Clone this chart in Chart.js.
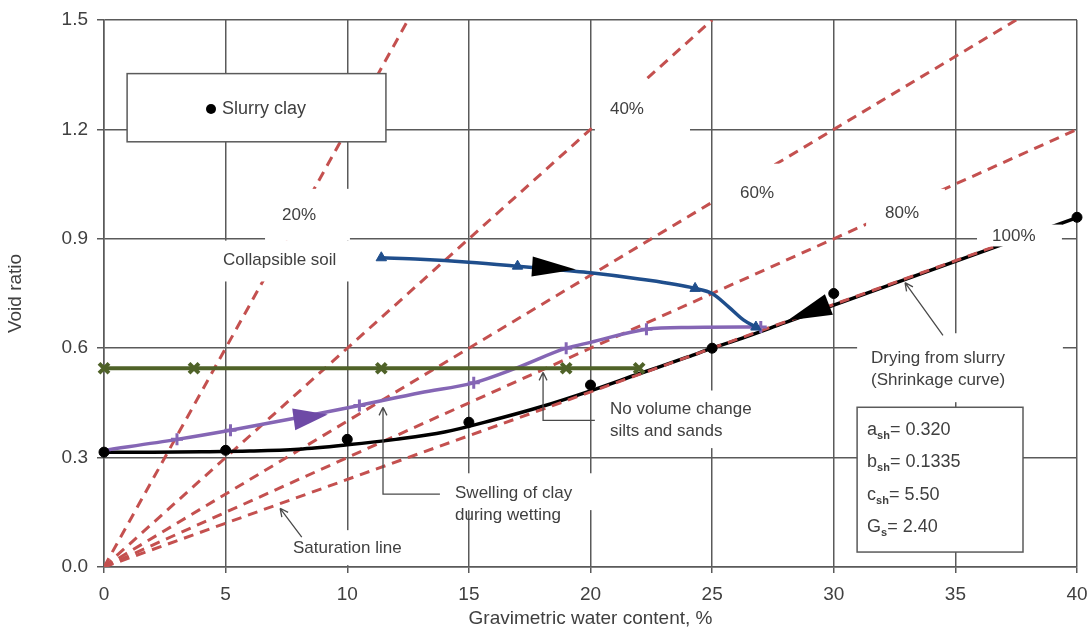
<!DOCTYPE html>
<html>
<head>
<meta charset="utf-8">
<script src="https://cdn.jsdelivr.net/npm/chart.js@4.4.1/dist/chart.umd.min.js"></script>
<style>
  html, body { margin: 0; padding: 0; background: #fff; }
  #wrap { width: 1090px; height: 630px; }
</style>
</head>
<body>
<div id="wrap"><canvas id="void-ratio" width="1090" height="630"></canvas></div>
<script>
// slurry clay, measured points
const slurryW = [0, 5, 10, 15, 20, 25, 30, 40];
const slurryE = [0.315, 0.32, 0.35, 0.397, 0.499, 0.6, 0.75, 0.959];

// shrinkage curve through the slurry points
const shrinkW = [0, 2, 4, 6, 8, 10, 12, 14, 16, 18, 20, 22, 24, 25, 26, 28, 30, 32, 34, 36, 38, 40];
const shrinkE = [0.315, 0.315, 0.316, 0.318, 0.323, 0.335, 0.35, 0.37, 0.403, 0.44, 0.483, 0.53, 0.576, 0.6, 0.622, 0.67, 0.718, 0.766, 0.814, 0.862, 0.91, 0.958];

// collapsible soil on wetting
const collapseW = [11.4, 13, 15, 17, 19, 20, 22, 24.3, 25, 25.7, 26.3, 26.8];
const collapseE = [0.848, 0.844, 0.836, 0.825, 0.813, 0.807, 0.79, 0.764, 0.75, 0.712, 0.677, 0.658];
const collapseMarkW = [11.4, 17, 24.3, 26.8];
const collapseMarkE = [0.848, 0.825, 0.764, 0.658];

// swelling clay on wetting
const swellW = [0, 3, 5.2, 8, 10.5, 13, 15.2, 17, 19, 20, 22.3, 24, 27];
const swellE = [0.32, 0.35, 0.375, 0.41, 0.443, 0.478, 0.505, 0.547, 0.6, 0.616, 0.652, 0.657, 0.658];
const swellMarkW = [3, 5.2, 10.5, 15.2, 19, 22.3, 27];
const swellMarkE = [0.35, 0.375, 0.443, 0.505, 0.6, 0.652, 0.658];

// silts and sands, no volume change
const siltW = [0, 3.7, 11.4, 19, 22];
const siltE = [0.545, 0.545, 0.545, 0.545, 0.545];

// saturation lines from the origin
const saturationNames = ['20%', '40%', '60%', '80%', '100%'];
const saturationEndW = [12.5, 25, 37.5, 40, 37.5];
const saturationEndE = [1.5, 1.5, 1.5, 1.2, 0.9];

// shrinkage parameters
const paramNames = ['a', 'b', 'c', 'G'];
const paramSubs = ['sh', 'sh', 'sh', 's'];
const paramValues = ['0.320', '0.1335', '5.50', '2.40'];

const xTicks = [0, 5, 10, 15, 20, 25, 30, 35, 40];
const yTicks = [0, 0.3, 0.6, 0.9, 1.2, 1.5];

const FONT = "'Liberation Sans', Arial, sans-serif";
const TEXT = '#404040';
const GRID = '#5a5a5a';
const RED = '#c4504f';

const pts = (ws, es) => ws.map((w, i) => ({ x: w, y: es[i] }));

// text labels: first line anchored at (w, e), white backing box [w0, e0, w1, e1]
const labelNotes = [
  { lines: ['20%'], at: [7.32, 0.9635], box: [6.62, 1.037, 10.11, 0.895] },
  { lines: ['40%'], at: [20.8, 1.256], box: [20.18, 1.338, 24.09, 1.193] },
  { lines: ['60%'], at: [26.15, 1.026], box: [25.12, 1.106, 28.61, 0.963] },
  { lines: ['80%'], at: [32.11, 0.969], box: [31.33, 1.037, 34.57, 0.928] },
  { lines: ['100%'], at: [36.51, 0.906], box: [35.89, 0.939, 39.38, 0.879] },
  { lines: ['Collapsible soil'], at: [4.89, 0.84], box: [4.44, 0.895, 10.2, 0.783] },
  { lines: ['Drying from slurry', '(Shrinkage curve)'], at: [31.53, 0.572], box: [30.96, 0.641, 39.42, 0.452] },
  { lines: ['No volume change', 'silts and sands'], at: [20.8, 0.4325], box: [20.31, 0.484, 27.58, 0.326] },
  { lines: ['Swelling of clay', 'during wetting'], at: [14.43, 0.2026], box: [14.02, 0.257, 20.31, 0.156] },
  { lines: ['Saturation line'], at: [7.77, 0.052], box: [7.44, 0.101, 12.99, 0.005] },
];

// thin pointers, last point carries the open arrowhead
const pointerNotes = [
  [[8.13, 0.082], [7.24, 0.161]],
  [[34.49, 0.635], [32.93, 0.78]],
  [[20.18, 0.402], [18.05, 0.402], [18.05, 0.534]],
  [[13.81, 0.2], [11.47, 0.2], [11.47, 0.438]],
];

// direction arrows on the paths
const flowArrows = [
  { from: [17.6, 0.824], to: [19.4, 0.816], half: 10, color: '#000' },
  { from: [29.8, 0.72], to: [28.1, 0.676], half: 11, color: '#000' },
  { from: [7.8, 0.405], to: [9.2, 0.418], half: 11, color: '#6e4aa6' },
];

const legendBox = [0.95, 1.353, 11.59, 1.166];
const legendDot = [4.4, 1.256];
const paramBox = [30.96, 0.438, 37.78, 0.041];
const paramRowsE = [0.375, 0.287, 0.197, 0.109];

const notesPlugin = {
  id: 'notes',
  afterDatasetsDraw(chart) {
    const { ctx } = chart;
    const sx = chart.scales.x;
    const sy = chart.scales.y;
    const P = (w, e) => [sx.getPixelForValue(w), sy.getPixelForValue(e)];
    const rect = (b) => {
      const [x0, y0] = P(b[0], b[1]);
      const [x1, y1] = P(b[2], b[3]);
      return [x0, y0, x1 - x0, y1 - y0];
    };

    ctx.save();

    // white boxes behind the free labels
    ctx.fillStyle = '#fff';
    labelNotes.forEach((n) => ctx.fillRect(...rect(n.box)));

    // framed boxes
    [legendBox, paramBox].forEach((b) => {
      const r = rect(b);
      ctx.fillStyle = '#fff';
      ctx.fillRect(...r);
      ctx.strokeStyle = GRID;
      ctx.lineWidth = 1.5;
      ctx.strokeRect(...r);
    });

    ctx.fillStyle = TEXT;
    ctx.textBaseline = 'middle';
    ctx.textAlign = 'left';
    ctx.font = `17px ${FONT}`;
    labelNotes.forEach((n) => {
      const [x, y] = P(n.at[0], n.at[1]);
      n.lines.forEach((t, i) => ctx.fillText(t, x, y + i * 22));
    });

    // legend entry
    const [dx, dy] = P(legendDot[0], legendDot[1]);
    ctx.fillStyle = '#000';
    ctx.beginPath();
    ctx.arc(dx, dy, 5, 0, Math.PI * 2);
    ctx.fill();
    ctx.fillStyle = TEXT;
    ctx.font = `18px ${FONT}`;
    ctx.fillText('Slurry clay', dx + 11, dy);

    // shrinkage parameters with subscripts
    const [px0] = P(paramBox[0] + 0.41, 0);
    paramRowsE.forEach((e, i) => {
      const y = sy.getPixelForValue(e);
      let x = px0;
      ctx.font = `18px ${FONT}`;
      ctx.fillText(paramNames[i], x, y);
      x += ctx.measureText(paramNames[i]).width;
      ctx.font = `bold 11px ${FONT}`;
      ctx.fillText(paramSubs[i], x, y + 6);
      x += ctx.measureText(paramSubs[i]).width;
      ctx.font = `18px ${FONT}`;
      ctx.fillText('= ' + paramValues[i], x, y);
    });

    // pointers
    ctx.strokeStyle = '#4a4a4a';
    ctx.lineWidth = 1.3;
    pointerNotes.forEach((path) => {
      const q = path.map((p) => P(p[0], p[1]));
      ctx.beginPath();
      ctx.moveTo(q[0][0], q[0][1]);
      q.slice(1).forEach((p) => ctx.lineTo(p[0], p[1]));
      const a = q[q.length - 2];
      const b = q[q.length - 1];
      const ang = Math.atan2(b[1] - a[1], b[0] - a[0]);
      [0.45, -0.45].forEach((d) => {
        ctx.moveTo(b[0], b[1]);
        ctx.lineTo(b[0] - 9 * Math.cos(ang + d), b[1] - 9 * Math.sin(ang + d));
      });
      ctx.stroke();
    });

    // filled direction arrows
    flowArrows.forEach((f) => {
      const [x0, y0] = P(f.from[0], f.from[1]);
      const [x1, y1] = P(f.to[0], f.to[1]);
      const ang = Math.atan2(y1 - y0, x1 - x0);
      const nx = -Math.sin(ang) * f.half;
      const ny = Math.cos(ang) * f.half;
      ctx.fillStyle = f.color;
      ctx.beginPath();
      ctx.moveTo(x1, y1);
      ctx.lineTo(x0 + nx, y0 + ny);
      ctx.lineTo(x0 - nx, y0 - ny);
      ctx.closePath();
      ctx.fill();
    });

    ctx.restore();
  },
};

const saturationSets = saturationNames.map((name, i) => ({
  label: 'S = ' + name,
  data: [{ x: 0, y: 0 }, { x: saturationEndW[i], y: saturationEndE[i] }],
  showLine: true,
  borderColor: RED,
  borderWidth: 3,
  borderDash: [10, 7],
  pointRadius: 0,
  order: name === '100%' ? 1 : 6,
}));

new Chart(document.getElementById('void-ratio'), {
  type: 'scatter',
  data: {
    datasets: [
      {
        label: 'Slurry clay',
        data: pts(slurryW, slurryE),
        pointStyle: 'circle',
        pointRadius: 5,
        backgroundColor: '#000',
        borderColor: '#000',
        clip: false,
        order: 0,
      },
      {
        label: 'Collapsible soil markers',
        data: pts(collapseMarkW, collapseMarkE),
        pointStyle: 'triangle',
        pointRadius: 6,
        backgroundColor: '#1f4e8c',
        borderColor: '#1f4e8c',
        order: 0,
      },
      {
        label: 'Swelling markers',
        data: pts(swellMarkW, swellMarkE),
        pointStyle: 'cross',
        pointRadius: 6,
        borderWidth: 3,
        borderColor: '#8566b5',
        order: 0,
      },
      {
        label: 'Silts and sands',
        data: pts(siltW, siltE),
        showLine: true,
        borderColor: '#4f6228',
        borderWidth: 4,
        pointStyle: 'crossRot',
        pointRadius: 7,
        pointBorderWidth: 4,
        pointBorderColor: '#4f6228',
        clip: false,
        order: 1,
      },
      {
        label: 'Collapsible soil',
        data: pts(collapseW, collapseE),
        showLine: true,
        borderColor: '#1f4e8c',
        borderWidth: 3.5,
        cubicInterpolationMode: 'monotone',
        pointRadius: 0,
        order: 1,
      },
      {
        label: 'Swelling of clay',
        data: pts(swellW, swellE),
        showLine: true,
        borderColor: '#8566b5',
        borderWidth: 3.5,
        cubicInterpolationMode: 'monotone',
        pointRadius: 0,
        order: 1,
      },
      {
        label: 'Shrinkage curve',
        data: pts(shrinkW, shrinkE),
        showLine: true,
        borderColor: '#000',
        borderWidth: 3.5,
        cubicInterpolationMode: 'monotone',
        pointRadius: 0,
        order: 2,
      },
      ...saturationSets,
    ],
  },
  options: {
    responsive: false,
    animation: false,
    devicePixelRatio: 1,
    layout: { padding: { top: 20, right: 13, left: 0, bottom: 0 } },
    plugins: {
      legend: { display: false },
      tooltip: { enabled: false },
    },
    scales: {
      x: {
        type: 'linear',
        min: 0,
        max: 40,
        afterFit(s) {
          s.height = 63;
          s.paddingLeft = 0;
          s.paddingRight = 0;
        },
        afterBuildTicks(s) { s.ticks = xTicks.map((v) => ({ value: v })); },
        grid: { color: GRID, lineWidth: 1.5, tickLength: 6, tickColor: GRID },
        border: { color: GRID, width: 1.5 },
        ticks: { color: TEXT, font: { size: 19, family: FONT }, padding: 10, maxRotation: 0 },
        title: {
          display: true,
          text: 'Gravimetric water content, %',
          color: TEXT,
          font: { size: 19, family: FONT },
          padding: { top: 0, bottom: 0 },
        },
      },
      y: {
        type: 'linear',
        min: 0,
        max: 1.5,
        afterFit(s) {
          s.width = 104;
          s.paddingTop = 0;
          s.paddingBottom = 0;
        },
        afterBuildTicks(s) { s.ticks = yTicks.map((v) => ({ value: v })); },
        grid: { color: GRID, lineWidth: 1.5, tickLength: 7, tickColor: GRID },
        border: { color: GRID, width: 1.5 },
        ticks: {
          color: TEXT,
          font: { size: 19, family: FONT },
          padding: 9,
          callback: (v) => Number(v).toFixed(1),
        },
        title: {
          display: true,
          text: 'Void ratio',
          color: TEXT,
          font: { size: 19, family: FONT },
          padding: { top: 4, bottom: 0 },
        },
      },
    },
  },
  plugins: [notesPlugin],
});
</script>
</body>
</html>
